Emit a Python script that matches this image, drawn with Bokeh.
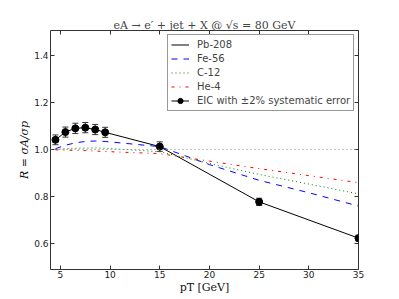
from bokeh.plotting import figure
from bokeh.models import (Range1d, LinearAxis, FixedTicker, Whisker, TeeHead,
                          ColumnDataSource, Legend, LegendItem, Span)
from bokeh.embed import file_html
from bokeh.resources import INLINE

# ---- data ----
pt_eic = [4.5, 5.5, 6.5, 7.5, 8.5, 9.5, 15, 25, 35]
r_pb = [1.041, 1.074, 1.090, 1.093, 1.085, 1.073, 1.012, 0.776, 0.621]
sys_err = 0.02

pt_th = [4.5, 5.5, 6.5, 7.5, 8.5, 9.5, 15, 20, 25, 30, 35]
r_fe = [1.003, 1.018, 1.028, 1.034, 1.036, 1.034, 1.012, 0.935, 0.868, 0.815, 0.758]
r_c = [1.000, 1.003, 1.005, 1.006, 1.006, 1.005, 0.990, 0.940, 0.893, 0.852, 0.810]
r_he = [0.998, 0.997, 0.996, 0.995, 0.993, 0.991, 0.982, 0.950, 0.918, 0.888, 0.858]

x_ticks = [5, 10, 15, 20, 25, 30, 35]
y_ticks = [0.6, 0.8, 1.0, 1.2, 1.4]

labels = ["Pb-208", "Fe-56", "C-12", "He-4", "EIC with \u00b12% systematic error"]

p = figure(frame_width=308, frame_height=239, output_backend="svg", toolbar_location=None,
           x_range=Range1d(4, 35), y_range=Range1d(0.487, 1.508),
           min_border_left=50, min_border_right=41, min_border_top=30, min_border_bottom=30)

p.title.text = "eA \u2192 e\u2032 + jet + X @ \u221as = 80 GeV"
p.title.text_font = "DejaVu Serif"
p.title.text_font_style = "normal"
p.title.text_font_size = "11px"
p.title.align = "center"
p.title.offset = 0
p.title.standoff = -3

p.grid.visible = False
p.outline_line_color = "#333333"
p.outline_line_width = 1
p.background_fill_color = "white"
p.border_fill_color = "white"

def style_axis(ax, show_labels=True):
    ax.major_tick_in = 4
    ax.major_tick_out = 0
    ax.minor_tick_in = 0
    ax.minor_tick_out = 0
    ax.axis_line_color = None
    ax.major_tick_line_color = "#333333"
    ax.major_label_text_font = "DejaVu Sans"
    ax.major_label_text_font_size = "9px"
    ax.major_label_text_color = "#222222"
    ax.major_label_standoff = 2
    if not show_labels:
        ax.major_label_overrides = {t: "" for t in ax.ticker.ticks}
        ax.major_label_standoff = 0

p.xaxis.ticker = FixedTicker(ticks=x_ticks)
p.yaxis.ticker = FixedTicker(ticks=y_ticks)
p.yaxis.major_label_overrides = {v: f"{v:.1f}" for v in y_ticks}
style_axis(p.xaxis[0])
style_axis(p.yaxis[0])
p.xaxis[0].major_label_standoff = 1
p.xaxis.axis_label = "pT [GeV]"
p.yaxis.axis_label = "R = \u03c3A/\u03c3p"
for ax in (p.xaxis[0], p.yaxis[0]):
    ax.axis_label_text_font = "DejaVu Serif"
    ax.axis_label_text_font_size = "11px"
    ax.axis_label_standoff = 0
    ax.axis_label_text_color = "#111111"
p.xaxis[0].axis_label_text_font_style = "normal"
p.yaxis[0].axis_label_text_font_style = "italic"

top_ax = LinearAxis(ticker=FixedTicker(ticks=x_ticks))
right_ax = LinearAxis(ticker=FixedTicker(ticks=y_ticks))
style_axis(top_ax, False)
style_axis(right_ax, False)
p.add_layout(top_ax, "above")
p.add_layout(right_ax, "right")

# reference line at 1
p.add_layout(Span(location=1.0, dimension="width", line_color="gray",
                  line_dash="1 3", line_width=1))

src = ColumnDataSource(dict(x=pt_eic, y=r_pb,
                            lo=[v * (1 - sys_err) for v in r_pb],
                            hi=[v * (1 + sys_err) for v in r_pb]))
th = ColumnDataSource(dict(x=pt_th, fe=r_fe, c=r_c, he=r_he))

l_pb = p.line("x", "y", source=src, line_color="black", line_width=1)
l_fe = p.line("x", "fe", source=th, line_color="blue", line_width=1, line_dash="6 6")
l_c = p.line("x", "c", source=th, line_color="green", line_width=1, line_dash="1 3")
l_he = p.line("x", "he", source=th, line_color="red", line_width=1, line_dash="3 5 1 5")

wh = Whisker(source=src, base="x", lower="lo", upper="hi", line_color="#333333",
             line_width=1,
             upper_head=TeeHead(size=6, line_color="#333333", line_width=1),
             lower_head=TeeHead(size=6, line_color="#333333", line_width=1))
p.add_layout(wh)
sc = p.scatter("x", "y", source=src, size=7, color="black")
l_eic = p.line("x", "y", source=src, line_color="black", line_width=1, visible=False)

legend = Legend(items=[
    LegendItem(label=labels[0], renderers=[l_pb]),
    LegendItem(label=labels[1], renderers=[l_fe]),
    LegendItem(label=labels[2], renderers=[l_c]),
    LegendItem(label=labels[3], renderers=[l_he]),
    LegendItem(label=labels[4], renderers=[l_eic, sc]),
])
legend.location = (117, 158)
legend.label_text_font = "DejaVu Sans"
legend.label_text_font_size = "10px"
legend.label_height = 13
legend.glyph_height = 13
legend.glyph_width = 18
legend.label_standoff = 8
legend.spacing = 1
legend.padding = 3
legend.margin = 0
legend.border_line_color = "#333333"
legend.border_line_width = 1
legend.background_fill_alpha = 1.0
p.add_layout(legend, "center")

open("out.html", "w").write(file_html(p, INLINE))
